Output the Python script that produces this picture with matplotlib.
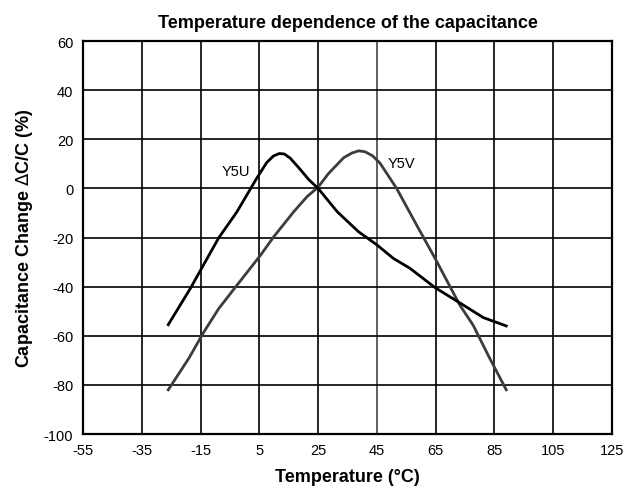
import numpy as np
import matplotlib
matplotlib.use('Agg')
import matplotlib.pyplot as plt

plt.rcParams['font.family'] = ['Liberation Sans', 'DejaVu Sans']
plt.rcParams['axes.unicode_minus'] = False

# Y5U curve (black)
y5u_t = [-26, -18.5, -15, -8.8, -2.6, 4.1, 7.5, 9.8, 11.8, 13.5, 15.5, 18.5, 21.8, 25, 31.5, 38.7, 45, 50.6, 56.2, 64.8, 74.4, 81.2, 89]
y5u_c = [-55.5, -40.8, -33.3, -20.1, -9.5, 4.1, 10.5, 13.2, 14.2, 14.0, 12.3, 8.3, 3.6, 0, -9.5, -17.6, -23, -28.5, -32.5, -40.4, -47.5, -52.6, -56]

# Y5V curve (dark grey)
y5v_t = [-26, -19, -13.9, -8.8, -2.6, 5.4, 9.9, 16.7, 21.2, 25, 28.5, 33.7, 36.5, 38.8, 41, 43.5, 46.1, 51.7, 58.5, 64.8, 73.2, 77.7, 83.4, 89]
y5v_c = [-82, -69.2, -58.5, -48.9, -39.4, -27.2, -19.7, -9.5, -3.4, 0.5, 6.0, 12.5, 14.4, 15.3, 14.9, 13.3, 10.2, 0, -14.9, -28.5, -47.5, -55.6, -69.2, -82]

xticks = [-55, -35, -15, 5, 25, 45, 65, 85, 105, 125]
yticks = [-100, -80, -60, -40, -20, 0, 20, 40, 60]

fig = plt.figure(figsize=(6.37, 4.89), dpi=100)
ax = fig.add_axes([0.1303, 0.1104, 0.8305, 0.8037])

for x in xticks[1:-1]:
    ax.axvline(x, color='#444444' if x == 45 else 'black', lw=1.2, zorder=1)
for y in yticks[1:-1]:
    ax.axhline(y, color='black', lw=1.2, zorder=1)

ax.plot(y5u_t, y5u_c, color='black', lw=2.0, zorder=3)
ax.plot(y5v_t, y5v_c, color='#3c3c3c', lw=2.0, zorder=2)

ax.text(-3, 7, 'Y5U', fontsize=10.5, ha='center', va='center')
ax.text(53.5, 10.5, 'Y5V', fontsize=10.5, ha='center', va='center')

ax.set_xlim(-55, 125)
ax.set_ylim(-100, 60)
ax.set_xticks(xticks)
ax.set_yticks(yticks)
ax.tick_params(axis='x', length=0, labelsize=10.5, pad=6.5)
ax.tick_params(axis='y', length=0, labelsize=10.5, pad=7)
for s in ax.spines.values():
    s.set_linewidth(1.6)

ax.set_xlabel('Temperature (°C)', fontsize=13, fontweight='bold', labelpad=8)
ax.set_ylabel('Capacitance Change $\\Delta$C/C (%)', fontsize=13, fontweight='bold', labelpad=6)
ax.set_title('Temperature dependence of the capacitance', fontsize=13, fontweight='bold', pad=10)

fig.savefig('out.png', dpi=100)
